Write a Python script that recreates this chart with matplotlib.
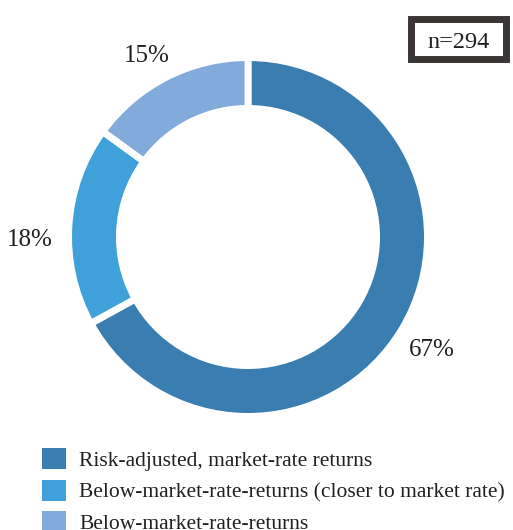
import matplotlib
matplotlib.use("Agg")
import matplotlib.pyplot as plt
import numpy as np
from matplotlib.patches import Rectangle

categories = [
    "Risk-adjusted, market-rate returns",
    "Below-market-rate-returns (closer to market rate)",
    "Below-market-rate-returns",
]
shares = [67, 18, 15]
value_labels = ["67%", "18%", "15%"]
colors = ["#3a7db0", "#40a0d9", "#82abdb"]
sample_note = "n=294"

plt.rcParams["font.family"] = ["Liberation Serif", "DejaVu Serif"]
text_color = "#231f20"

W, H = 513, 530
fig = plt.figure(figsize=(W / 100, H / 100), dpi=100)
ax = fig.add_axes([0, 0, 1, 1])

# ring geometry (in pixel-sized data units); white edges separate the slices
cx, cy, R, ring = 248, H - 237, 176, 44
edge = 5.0                      # points
edge_px = edge * 100 / 72
wedges, _ = ax.pie(
    shares,
    colors=colors,
    startangle=90,
    counterclock=False,
    center=(cx, cy),
    radius=R + edge_px / 2,
    wedgeprops=dict(width=ring + edge_px, edgecolor="white", linewidth=edge),
    frame=True,
)
ax.set_xlim(0, W)
ax.set_ylim(0, H)
ax.set_aspect("equal")
ax.axis("off")

# percentage labels outside the ring near each slice's mid-angle
label_radius = [1.22, 1.24, 1.19]
label_turn = [-0.5, 3.6, 1.8]   # degrees
start = 90.0
total = float(sum(shares))
for share, lab, lr, turn in zip(shares, value_labels, label_radius, label_turn):
    sweep = 360.0 * share / total
    mid = np.deg2rad(start - sweep / 2 + turn)
    start -= sweep
    ax.text(cx + lr * R * np.cos(mid), cy + lr * R * np.sin(mid), lab,
            ha="center", va="center_baseline", fontsize=18, color=text_color)

# sample-size box
ax.add_patch(Rectangle((411, H - 59), 95, 40, fill=False,
                       edgecolor="#3a3636", linewidth=5))
ax.text(458.5, H - 40, sample_note, ha="center", va="center_baseline",
        fontsize=17.5, color=text_color)

leg = ax.legend(
    wedges, categories,
    loc="upper left", bbox_to_anchor=(27 / W, 1 - 433 / H),
    frameon=False, fontsize=15.5, handlelength=1.12, handleheight=1.12,
    handletextpad=0.6, labelspacing=0.41, borderpad=0.2,
)
for t in leg.get_texts():
    t.set_color(text_color)
for h in leg.legend_handles:
    h.set_edgecolor("none")
    h.set_linewidth(0)

fig.savefig("out.png", dpi=100)
